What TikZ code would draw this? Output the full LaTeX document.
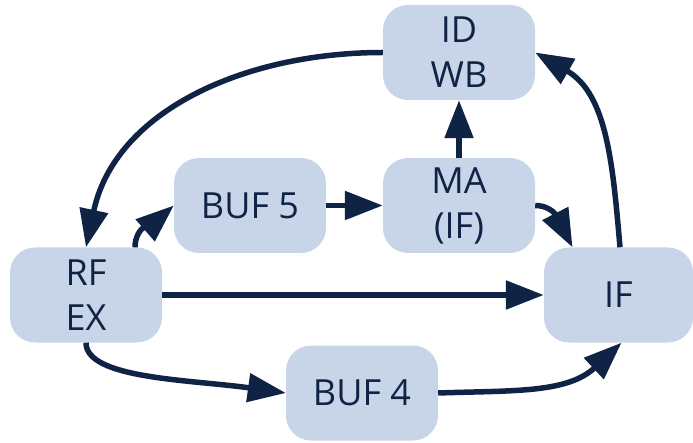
\documentclass[tikz,border=0pt]{standalone}
\usepackage{fontspec}
\setmainfont{Open Sans}
\usetikzlibrary{arrows.meta}
\definecolor{boxfill}{HTML}{C8D5E8}
\definecolor{ink}{HTML}{0F2344}
\begin{document}
\begin{tikzpicture}[x=1pt,y=1pt,
  stage/.style={fill=boxfill, draw=none, rounded corners=25pt,
    minimum width=152pt, minimum height=95pt, align=center,
    text=ink, font=\fontsize{36}{45}\selectfont, inner sep=0pt},
  flow/.style={draw=ink, line width=5.5pt,
    -{Triangle[length=38pt,width=28pt]}}]
\useasboundingbox (0,0) rectangle (693,442);
% pipeline stages
\node[stage] (idwb) at (459,389.5) {ID\\WB};
\node[stage] (buf5) at (250,236.5) {BUF 5};
\node[stage] (ma)   at (459,236.5) {MA\\(IF)};
\node[stage] (rfex) at (86,147)    {RF\\EX};
\node[stage, minimum width=149pt] (if) at (618.5,147) {IF};
\node[stage] (buf4) at (362,49)    {BUF 4};
% connections
\draw[flow] (idwb.west) to[out=180,in=78] (rfex.north);
\draw[flow] ([xshift=49pt]rfex.north) to[out=90,in=221] (buf5.west);
\draw[flow] (buf5) -- (ma);
\draw[flow] (ma) -- (idwb);
\draw[flow] (ma.east) to[out=0,in=117] ([xshift=-46pt]if.north);
\draw[flow] (rfex) -- (if);
\draw[flow] ([xshift=1.5pt]if.north) to[out=95,in=-30] (idwb.east);
\draw[flow] (rfex.south) to[out=-90,in=172,out looseness=0.45,in looseness=1.2] (buf4.west);
\draw[flow] (buf4.east) to[out=2,in=-137] ([xshift=3pt]if.south);
\end{tikzpicture}
\end{document}
